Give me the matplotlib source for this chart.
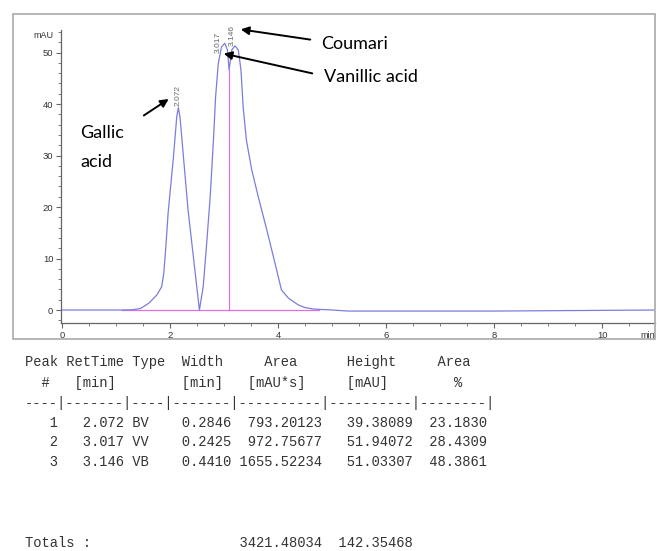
import matplotlib
matplotlib.use("Agg")
import matplotlib.pyplot as plt
from matplotlib.patches import Rectangle
from matplotlib.ticker import MultipleLocator

# ---------------- data ----------------
time_min = [0.0, 1.1, 1.3, 1.45, 1.6, 1.75, 1.84, 1.88, 1.92, 1.96, 2.06, 2.12, 2.15,
            2.18, 2.33, 2.54,
            2.61, 2.67, 2.74, 2.80, 2.84, 2.89, 2.95, 3.01, 3.06, 3.09, 3.14, 3.20,
            3.26, 3.31, 3.35, 3.41, 3.51, 3.63, 3.79, 3.94, 4.06, 4.19, 4.37, 4.49,
            4.64, 5.0, 5.3, 8.0, 11.0]
signal_mau = [0.0, 0.0, 0.05, 0.3, 1.3, 2.9, 4.5, 7.1, 12.5, 18.8, 29.8, 37.5, 39.3,
              37.5, 19.4, 0.0,
              4.5, 12.3, 22.0, 33.0, 41.4, 47.9, 51.1, 51.8, 50.5, 46.6, 50.5, 51.3,
              50.5, 46.6, 39.5, 33.0, 27.2, 22.0, 15.5, 9.1, 3.9, 2.3, 1.0, 0.5,
              0.2, 0.0, -0.2, -0.2, 0.0]

baseline_start, baseline_end = 1.1, 4.75
split_time, split_height = 3.09, 46.6

peak_label_text = ["2.072", "3.017", "3.146"]
peak_label_x = [2.14, 2.89, 3.15]
peak_label_y = [39.6, 50.0, 51.3]

xticks = [0, 2, 4, 6, 8, 10]
yticks = [0, 10, 20, 30, 40, 50]

table_lines = [
    "Peak RetTime Type  Width     Area      Height     Area  ",
    "  #   [min]        [min]   [mAU*s]     [mAU]        %   ",
    "----|-------|----|-------|----------|----------|--------|",
    "   1   2.072 BV    0.2846  793.20123   39.38089  23.1830",
    "   2   3.017 VV    0.2425  972.75677   51.94072  28.4309",
    "   3   3.146 VB    0.4410 1655.52234   51.03307  48.3861",
]
totals_line = "Totals :                  3421.48034  142.35468"

# ---------------- figure ----------------
W, H = 657, 551
fig = plt.figure(figsize=(W / 100, H / 100), dpi=100)
fig.patch.set_facecolor("white")

def fx(px):
    return px / W

def fy(py):
    return 1 - py / H

ax = fig.add_axes([fx(61), fy(323), (655 - 61) / W, (323 - 30) / H])
ax.set_xlim(-0.024, 10.98)
ax.set_ylim(-2.52, 54.37)

ax.plot(time_min, signal_mau, color="#7c7ce0", lw=0.9, zorder=3,
        solid_joinstyle="round")
ax.plot([baseline_start, baseline_end], [0, 0], color="#e070e0", lw=0.9, zorder=2)
ax.plot([split_time, split_time], [0, split_height], color="#e070e0", lw=0.9, zorder=2)

for t, xx, yy in zip(peak_label_text, peak_label_x, peak_label_y):
    ax.text(xx, yy, t, rotation=90, ha="center", va="bottom", fontsize=6,
            family="Liberation Sans", color="#666666")

for s in ["top", "right"]:
    ax.spines[s].set_visible(False)
for s in ["left", "bottom"]:
    ax.spines[s].set_color("#666666")
    ax.spines[s].set_linewidth(0.9)

ax.set_xticks(xticks)
ax.set_yticks(yticks)
ax.xaxis.set_minor_locator(MultipleLocator(0.5))
ax.yaxis.set_minor_locator(MultipleLocator(2))
ax.tick_params(which="major", length=3.5, width=0.8, color="#666666",
               labelsize=6.8, labelcolor="#333333", pad=2)
ax.tick_params(which="minor", length=2, width=0.6, color="#666666")
for lab in ax.get_xticklabels() + ax.get_yticklabels():
    lab.set_family("Liberation Sans")

fig.text(fx(43), fy(35), "mAU", fontsize=6.5, family="Liberation Sans",
         color="#333333", ha="center", va="center")
fig.text(fx(648), fy(335), "min", fontsize=6.5, family="Liberation Sans",
         color="#333333", ha="center", va="center")

# outer frame
fig.patches.append(Rectangle((fx(13), fy(339)), (655 - 13) / W, (339 - 14) / H,
                             transform=fig.transFigure, fill=False,
                             edgecolor="#b0b0b0", lw=1.3))

# annotations
arrow = dict(arrowstyle="-|>", color="black", lw=1.4, mutation_scale=12)
ax.annotate("", xy=(fx(171), fy(97.5)), xycoords="figure fraction",
            xytext=(fx(141.5), fy(117)), textcoords="figure fraction", arrowprops=arrow)
ax.annotate("", xy=(fx(238), fy(29)), xycoords="figure fraction",
            xytext=(fx(313), fy(40)), textcoords="figure fraction", arrowprops=arrow)
ax.annotate("", xy=(fx(221), fy(53)), xycoords="figure fraction",
            xytext=(fx(315), fy(74)), textcoords="figure fraction", arrowprops=arrow)

fig.text(fx(80), fy(133), "Gallic", fontsize=13, family="Lato", va="center", ha="left")
fig.text(fx(80), fy(162), "acid", fontsize=13, family="Lato", va="center", ha="left")
fig.text(fx(321), fy(44), "Coumari", fontsize=13, family="Lato", va="center", ha="left")
fig.text(fx(324), fy(77), "Vanillic acid", fontsize=13, family="Lato", va="center", ha="left")

# table
row_y = [362, 383, 403, 423, 442, 462]
for line, yy in zip(table_lines, row_y):
    fig.text(fx(25), fy(yy), line, family="Liberation Mono", fontsize=9.9,
             color="#333333", va="center", ha="left")
fig.text(fx(25), fy(543), totals_line, family="Liberation Mono", fontsize=9.9,
         color="#333333", va="center", ha="left")

fig.savefig("out.png", dpi=100)
